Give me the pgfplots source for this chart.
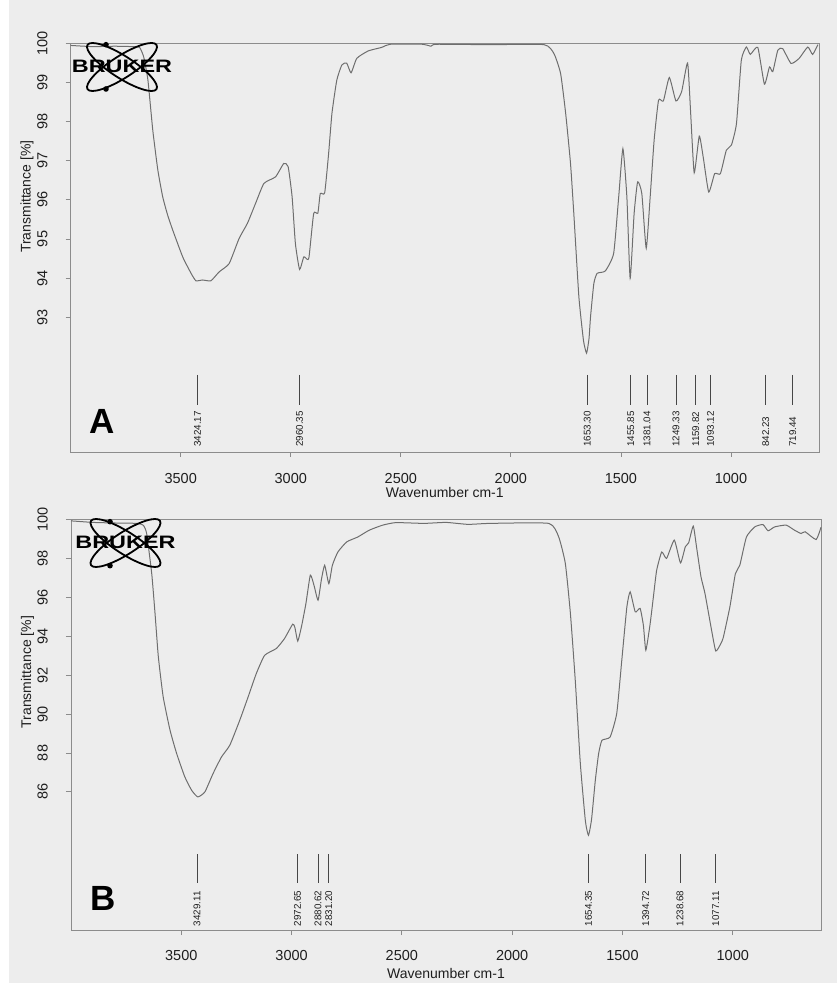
\documentclass[border=0pt]{standalone}
\usepackage{fontspec}
\setmainfont{Liberation Sans}
\usepackage{pgfplots}
\pgfplotsset{compat=1.18}
\usepackage{pgfplotstable}
\definecolor{bg}{RGB}{237,237,237}
\definecolor{specc}{RGB}{110,110,110}
\definecolor{axc}{RGB}{140,140,140}
\definecolor{pkc}{RGB}{70,70,70}
\definecolor{txc}{RGB}{30,30,30}

\pgfplotstableread{
wn T
4000 99.95
3900 99.92
3800 99.93
3720 99.92
3687 99.90
3668 99.65
3649 99.06
3627 97.78
3604 96.76
3582 96.08
3560 95.62
3536 95.22
3491 94.54
3453 94.12
3431 93.93
3401 93.95
3363 93.93
3325 94.16
3280 94.37
3235 95.01
3197 95.40
3160 95.91
3122 96.42
3069 96.59
3032 96.93
3012 96.85
2994 96.08
2979 94.88
2960 94.22
2941 94.54
2926 94.48
2917 94.54
2896 95.65
2877 95.66
2866 96.16
2846 96.18
2828 97.19
2813 98.21
2791 99.06
2768 99.45
2746 99.50
2726 99.25
2700 99.62
2648 99.81
2587 99.90
2549 99.98
2400 99.98
2363 99.93
2340 99.98
2100 99.97
1849 99.97
1804 99.74
1774 99.23
1751 98.21
1729 96.93
1714 95.65
1691 93.52
1670 92.40
1656 92.08
1645 92.45
1638 93.01
1623 93.86
1608 94.12
1571 94.18
1533 94.63
1510 96.08
1491 97.31
1473 96.08
1458 93.99
1440 95.65
1424 96.46
1405 96.16
1385 94.76
1367 96.08
1349 97.53
1329 98.55
1307 98.53
1280 99.13
1250 98.53
1224 98.77
1197 99.50
1183 98.21
1167 96.69
1144 97.63
1126 97.09
1101 96.20
1074 96.67
1048 96.67
1021 97.27
998 97.40
975 97.95
953 99.57
930 99.91
912 99.72
878 99.90
848 98.96
825 99.40
810 99.28
787 99.83
765 99.87
727 99.49
690 99.62
651 99.91
629 99.72
605 99.97
}\specA

\pgfplotstableread{
wn T
4000 99.93
3900 99.85
3800 99.82
3700 99.80
3672 99.70
3657 99.28
3634 97.22
3619 95.17
3604 92.94
3582 90.88
3551 89.17
3521 87.97
3484 86.77
3453 86.08
3425 85.74
3393 86.00
3356 86.94
3318 87.79
3280 88.40
3235 89.68
3197 90.88
3160 92.08
3122 93.02
3069 93.37
3032 93.88
2995 94.62
2985 94.45
2972 93.75
2955 94.50
2935 95.68
2915 97.14
2898 96.60
2880 95.85
2865 96.90
2850 97.65
2831 96.70
2815 97.65
2790 98.33
2750 98.85
2700 99.10
2648 99.45
2587 99.71
2527 99.84
2400 99.80
2300 99.85
2200 99.75
2100 99.80
1834 99.80
1789 99.10
1759 97.74
1736 95.17
1714 91.74
1691 87.46
1668 84.50
1654 83.77
1640 84.60
1623 86.60
1608 87.97
1593 88.65
1556 88.82
1526 90.03
1503 92.77
1480 95.51
1465 96.28
1442 95.25
1420 95.43
1405 94.55
1394 93.28
1375 94.60
1360 96.00
1345 97.39
1322 98.33
1300 98.00
1265 98.94
1237 97.77
1215 98.60
1200 98.80
1179 99.66
1164 98.57
1144 97.05
1126 96.20
1096 94.31
1077 93.24
1055 93.60
1043 93.93
1013 95.51
988 97.22
968 97.65
938 99.10
900 99.62
863 99.74
840 99.42
810 99.62
758 99.71
720 99.45
690 99.28
672 99.37
622 98.97
600 99.60
}\specB

\tikzset{
  spec/.style={color=specc, line width=1bp, smooth, tension=0.3},
  peakline/.style={draw=pkc, line width=0.8bp},
  peaklabel/.style={rotate=90, anchor=west, inner sep=0pt, text=txc, font=\fontsize{9.8bp}{10bp}\selectfont},
}
\pgfplotsset{
  irstyle/.style={
    scale only axis,
    x dir=reverse,
    xmin=600, xmax=4000,
    xtick={1000,1500,2000,2500,3000,3500},
    axis line style={draw=axc, line width=0.8bp},
    tick style={draw=axc, line width=0.8bp},
    tick align=outside,
    major tick length=5bp,
    xtick pos=bottom, ytick pos=left,
    /pgf/number format/assume math mode=true,
    /pgf/number format/1000 sep={},
    tick label style={font=\fontsize{14.5bp}{16bp}\selectfont, text=txc, inner sep=0pt},
    xticklabel style={anchor=north},
    yticklabel style={rotate=90, anchor=south},
    xlabel={Wavenumber cm-1},
    ylabel={Transmittance [\%]},
    label style={font=\fontsize{14bp}{16bp}\selectfont, text=txc},
    clip=false,
  },
}

\newcommand\brukerlogo[5]{% cx cy dx dtop dbot
  \begin{scope}
  \draw[line width=1.8bp, rotate around={-32.7:(#1bp,#2bp)}] (#1bp,#2bp) ellipse [x radius=41bp, y radius=11bp];
  \draw[line width=1.8bp, rotate around={32.7:(#1bp,#2bp)}] (#1bp,#2bp) ellipse [x radius=41bp, y radius=11bp];
  \fill ({#1bp+#3bp},{#2bp+#4bp}) circle (2.8bp);
  \fill ({#1bp+#3bp},{#2bp+#5bp}) circle (2.8bp);
  \node[font=\bfseries\fontsize{18bp}{18bp}\selectfont, xscale=1.3, inner sep=0pt] at (#1bp,{#2bp+0.5bp}) {BRUKER};
  \end{scope}
}

\begin{document}
\begin{tikzpicture}
\useasboundingbox (0,0) rectangle (837bp,983bp);
\fill[bg] (0,0) rectangle (837bp,983bp);
\fill[white] (0,0) rectangle (9bp,983bp);

% Panel A
\begin{axis}[irstyle,
  at={(70.7bp,531bp)}, anchor=south west,
  width=748.3bp, height=408.5bp,
  ymin=89.55, ymax=100,
  ytick={93,94,...,100},
  xticklabel shift=16bp,
  yticklabel shift=18bp,
  xlabel style={at={(axis description cs:0.5,0)}, anchor=center, yshift=-41bp},
  ylabel style={at={(axis description cs:-0.0584,0.625)}, anchor=center},
]
\addplot[spec] table[x=wn, y=T] {\specA};
\pgfplotsinvokeforeach{3424.17,2960.35,1653.30,1455.85,1381.04,1249.33,1159.82,1093.12,842.23,719.44}{
  \draw[peakline] (axis cs:#1,91.52) -- (axis cs:#1,90.75);
  \node[peaklabel] at (axis cs:#1,89.68) {#1};
}
\end{axis}

% Panel B
\begin{axis}[irstyle,
  at={(71bp,53bp)}, anchor=south west,
  width=750bp, height=410.5bp,
  ymin=78.9, ymax=100,
  ytick={86,88,...,100},
  xticklabel shift=15bp,
  yticklabel shift=18bp,
  xlabel style={at={(axis description cs:0.5,0)}, anchor=center, yshift=-43bp},
  ylabel style={at={(axis description cs:-0.058,0.628)}, anchor=center},
]
\addplot[spec] table[x=wn, y=T] {\specB};
\pgfplotsinvokeforeach{3429.11,2972.65,2880.62,2831.20,1654.35,1394.72,1238.68,1077.11}{
  \draw[peakline] (axis cs:#1,82.80) -- (axis cs:#1,81.30);
  \node[peaklabel] at (axis cs:#1,79.09) {#1};
}
\end{axis}

% panel letters
\node[font=\bfseries\fontsize{35bp}{35bp}\selectfont, inner sep=0pt] at (102bp,562bp) {A};
\node[font=\bfseries\fontsize{35bp}{35bp}\selectfont, inner sep=0pt] at (103bp,85bp) {B};

% logos
\brukerlogo{122}{916}{-16}{22.3}{-22}
\brukerlogo{125.5}{440}{-15.5}{21.3}{-22.7}
\end{tikzpicture}
\end{document}
